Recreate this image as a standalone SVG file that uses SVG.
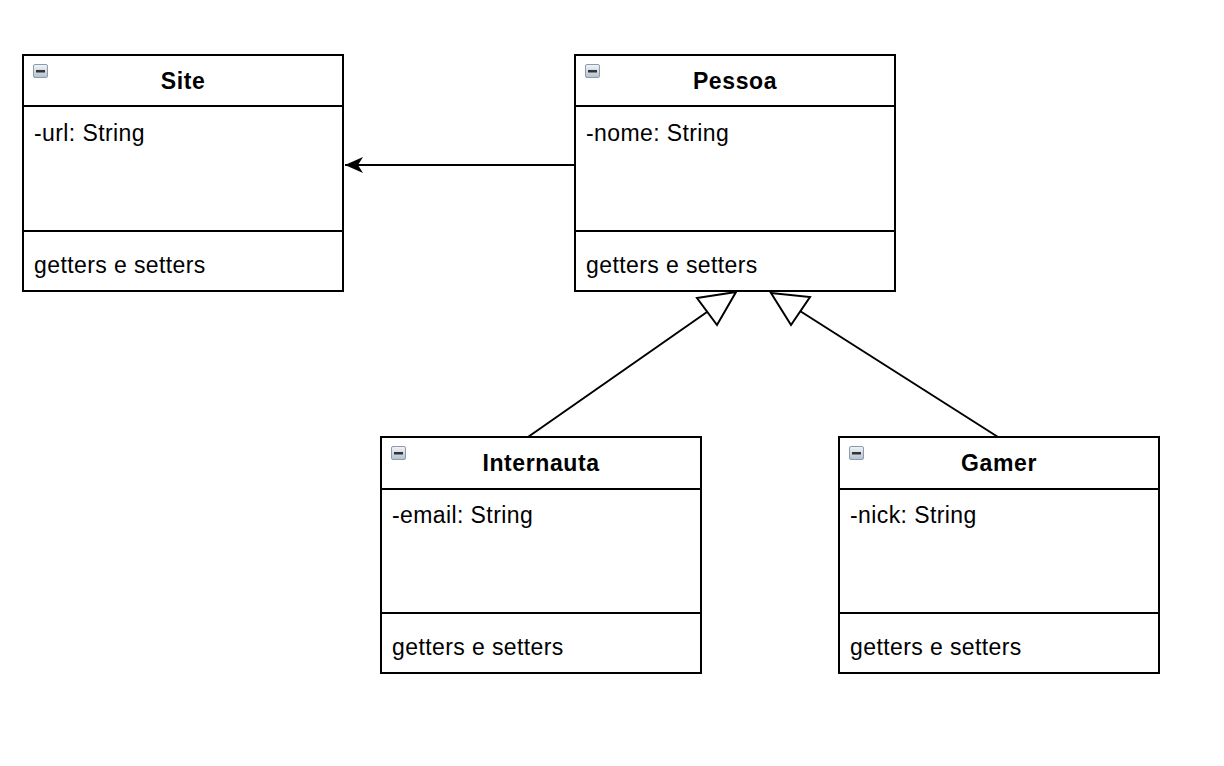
<svg xmlns="http://www.w3.org/2000/svg" width="1224" height="766" viewBox="0 0 1224 766">
<style>
.box{fill:#fff;stroke:#000;stroke-width:2}
.ln{stroke:#000;stroke-width:2;fill:none}
.t{font-family:"Liberation Sans",Arial,sans-serif;font-size:23px;letter-spacing:0.4px;fill:#000}
.h{font-family:"Liberation Sans",Arial,sans-serif;font-size:23px;letter-spacing:0.6px;font-weight:bold;fill:#000;text-anchor:middle}
.ic{fill:url(#g);stroke:#8a9bb0;stroke-width:1}
.con{stroke:#000;stroke-width:2;fill:none}
</style>
<defs>
<linearGradient id="g" x1="0" y1="0" x2="0" y2="1"><stop offset="0" stop-color="#f2f5f9"/><stop offset="1" stop-color="#b4c0ce"/></linearGradient>
<marker id="arr" markerWidth="20" markerHeight="18" refX="18" refY="9" orient="auto" markerUnits="userSpaceOnUse"><path d="M0,1 L18,9 L0,17 L5,9 Z" fill="#000"/></marker>
<g id="icon"><rect class="ic" x="0.5" y="0.5" width="14" height="13" rx="1.5"/><rect x="3" y="6" width="9" height="2.5" fill="#333"/></g>
</defs>
<rect width="1224" height="766" fill="#fff"/>
<g id="connectors">
<line class="con" x1="575" y1="165" x2="345" y2="165" marker-end="url(#arr)"/>
<line class="con" x1="528" y1="437" x2="707" y2="312"/>
<polygon class="con" points="736,292 697,298 717,325" style="fill:#fff"/>
<line class="con" x1="998" y1="437" x2="800" y2="311"/>
<polygon class="con" points="771,293 810,297 791,325" style="fill:#fff"/>
</g>
<g id="site">
<rect class="box" x="23" y="55" width="320" height="236"/>
<line class="ln" x1="23" y1="106" x2="343" y2="106"/>
<line class="ln" x1="23" y1="231" x2="343" y2="231"/>
<use href="#icon" x="33" y="64"/>
<text class="h" x="183" y="89">Site</text>
<text class="t" x="34" y="141">-url: String</text>
<text class="t" x="34" y="273">getters e setters</text>
</g>
<g id="pessoa">
<rect class="box" x="575" y="55" width="320" height="236"/>
<line class="ln" x1="575" y1="106" x2="895" y2="106"/>
<line class="ln" x1="575" y1="231" x2="895" y2="231"/>
<use href="#icon" x="585" y="64"/>
<text class="h" x="735" y="89">Pessoa</text>
<text class="t" x="586" y="141">-nome: String</text>
<text class="t" x="586" y="273">getters e setters</text>
</g>
<g id="internauta">
<rect class="box" x="381" y="437" width="320" height="236"/>
<line class="ln" x1="381" y1="489" x2="701" y2="489"/>
<line class="ln" x1="381" y1="613" x2="701" y2="613"/>
<use href="#icon" x="391" y="446"/>
<text class="h" x="541" y="471">Internauta</text>
<text class="t" x="392" y="523">-email: String</text>
<text class="t" x="392" y="655">getters e setters</text>
</g>
<g id="gamer">
<rect class="box" x="839" y="437" width="320" height="236"/>
<line class="ln" x1="839" y1="489" x2="1159" y2="489"/>
<line class="ln" x1="839" y1="613" x2="1159" y2="613"/>
<use href="#icon" x="849" y="446"/>
<text class="h" x="999" y="471">Gamer</text>
<text class="t" x="850" y="523">-nick: String</text>
<text class="t" x="850" y="655">getters e setters</text>
</g>
</svg>
